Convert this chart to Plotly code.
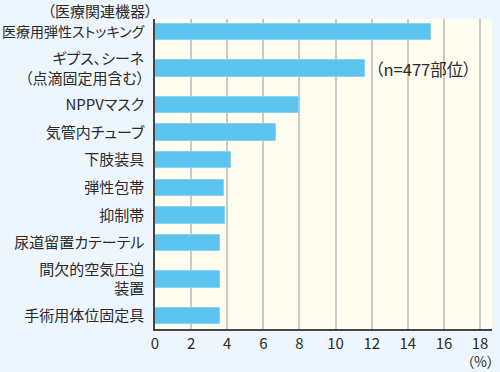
import plotly.graph_objects as go

categories = [
    "医療用弾性ストッキング",
    "ギプス、シーネ<br>（点滴固定用含む）",
    "NPPVマスク",
    "気管内チューブ",
    "下肢装具",
    "弾性包帯",
    "抑制帯",
    "尿道留置カテーテル",
    "間欠的空気圧迫<br>装置",
    "手術用体位固定具",
]
values = [15.3, 11.6, 8.0, 6.7, 4.2, 3.8, 3.85, 3.6, 3.6, 3.6]
x_ticks = list(range(0, 19, 2))

# layout: vertical positions with extra room around two-line labels
base_gap = 27.5
extra = 9.0
pad = 13.0
multi = [c.count("<br>") > 0 for c in categories]
ypos = [pad]
for i in range(1, len(categories)):
    g = base_gap
    if multi[i] or multi[i - 1]:
        g += extra
    ypos.append(ypos[-1] + g)
ymax = ypos[-1] + pad

# long labels are set slightly smaller so they fit the left margin
def fit(label):
    longest = max(len(p) for p in label.split("<br>"))
    if longest > 10:
        return "<span style='font-size:14px'>" + label + "</span>"
    return label

ticklabels = [fit(c) for c in categories]

font = "Noto Sans CJK JP, Noto Sans, sans-serif"
txt = "#2a2a2a"
fig = go.Figure()
fig.add_trace(go.Bar(
    x=values, y=ypos, orientation="h", width=16.5,
    marker=dict(color="#5DC4EF", line=dict(color="#86D3F3", width=1)),
    hoverinfo="skip",
))
fig.update_layout(
    width=500, height=372,
    margin=dict(l=155, r=8, t=19, b=43),
    paper_bgcolor="#EEF6FD",
    plot_bgcolor="#FFFDF0",
    showlegend=False,
    font=dict(family=font, color=txt, size=13),
    bargap=0,
)
fig.update_xaxes(
    range=[0, 18.66], tickvals=x_ticks, ticktext=[str(v) for v in x_ticks],
    showgrid=True, gridcolor="#C9C9C9", gridwidth=1.5,
    showline=True, linecolor="#444444", linewidth=1.5,
    zeroline=False, ticks="", tickfont=dict(size=15, color=txt),
    fixedrange=True, automargin=False,
)
fig.update_yaxes(
    range=[ymax, 0], tickvals=ypos, ticktext=ticklabels,
    showgrid=False, showline=True, linecolor="#444444", linewidth=1.5,
    zeroline=False, ticks="", ticklabelstandoff=6,
    tickfont=dict(size=15, color=txt), fixedrange=True, automargin=False,
)
fig.add_annotation(text="（医療関連機器）", xref="paper", yref="paper", x=-0.188, y=1.0,
                   xanchor="center", yanchor="bottom", showarrow=False,
                   font=dict(size=15, color=txt), yshift=-4, xshift=8)
fig.add_annotation(text="（n=477部位）", xref="x", yref="y", x=14.85, y=ypos[1],
                   xanchor="center", yanchor="middle", showarrow=False,
                   font=dict(size=16.5, color=txt))
fig.add_annotation(text="（%）", xref="x", yref="paper", x=18, y=0,
                   xanchor="center", yanchor="top", showarrow=False, yshift=-20,
                   font=dict(size=14, color=txt))

css = ("var s=document.createElement('style');"
       "s.textContent='text{font-feature-settings:\"palt\" 1;}';"
       "document.head.appendChild(s);")
fig.write_html(
    "out.html",
    config={"displayModeBar": False},
    post_script="document.body.style.margin='0';document.body.style.background='#EEF6FD';" + css,
)
